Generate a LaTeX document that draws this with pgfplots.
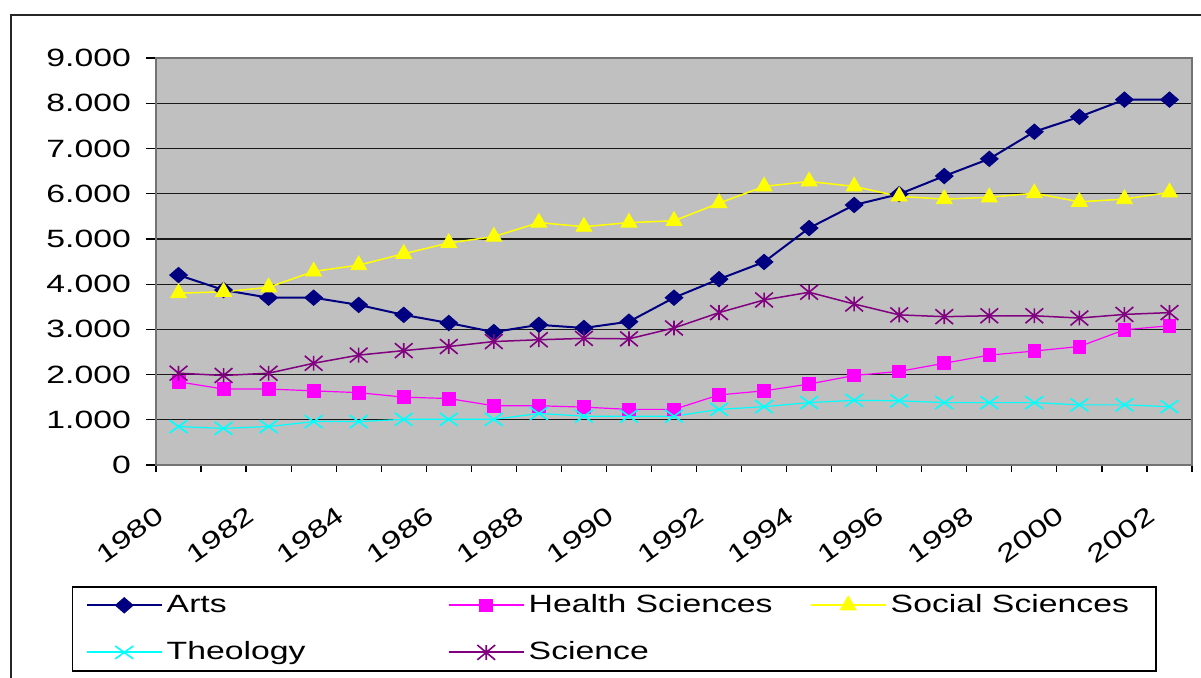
\documentclass[border=0pt]{standalone}
\usepackage{pgfplots}
\usepackage{pgfplotstable}
\pgfplotsset{compat=1.18}
\usepackage{fontspec}
\setmainfont{Liberation Sans}[FakeStretch=1.35]
\definecolor{artsc}{RGB}{0,0,128}
\definecolor{healthc}{RGB}{255,0,255}
\definecolor{socc}{RGB}{255,255,0}
\definecolor{theoc}{RGB}{0,255,255}
\definecolor{scic}{RGB}{128,0,128}
\definecolor{plotbg}{RGB}{192,192,192}
\pgfdeclareplotmark{wx}{%
 \pgfpathmoveto{\pgfqpoint{-1.4\pgfplotmarksize}{-\pgfplotmarksize}}%
 \pgfpathlineto{\pgfqpoint{1.4\pgfplotmarksize}{\pgfplotmarksize}}%
 \pgfpathmoveto{\pgfqpoint{-1.4\pgfplotmarksize}{\pgfplotmarksize}}%
 \pgfpathlineto{\pgfqpoint{1.4\pgfplotmarksize}{-\pgfplotmarksize}}%
 \pgfusepathqstroke}
\pgfdeclareplotmark{wstar}{%
 \pgfpathmoveto{\pgfqpoint{-1.2\pgfplotmarksize}{-\pgfplotmarksize}}%
 \pgfpathlineto{\pgfqpoint{1.2\pgfplotmarksize}{\pgfplotmarksize}}%
 \pgfpathmoveto{\pgfqpoint{-1.2\pgfplotmarksize}{\pgfplotmarksize}}%
 \pgfpathlineto{\pgfqpoint{1.2\pgfplotmarksize}{-\pgfplotmarksize}}%
 \pgfpathmoveto{\pgfqpoint{0pt}{-\pgfplotmarksize}}%
 \pgfpathlineto{\pgfqpoint{0pt}{\pgfplotmarksize}}%
 \pgfusepathqstroke}
\pgfdeclareplotmark{wdiamond}{%
 \pgfpathmoveto{\pgfqpoint{0pt}{\pgfplotmarksize}}%
 \pgfpathlineto{\pgfqpoint{1.15\pgfplotmarksize}{0pt}}%
 \pgfpathlineto{\pgfqpoint{0pt}{-\pgfplotmarksize}}%
 \pgfpathlineto{\pgfqpoint{-1.15\pgfplotmarksize}{0pt}}%
 \pgfpathclose
 \pgfusepathqfillstroke}
\pgfplotstableread{
x arts health social theo sci
0 4200 1840 3800 850 2030
1 3870 1680 3830 810 1980
2 3700 1680 3930 850 2030
3 3700 1640 4280 960 2250
4 3540 1600 4420 960 2430
5 3320 1500 4670 1010 2530
6 3140 1470 4910 1010 2620
7 2940 1310 5050 1010 2730
8 3100 1310 5360 1140 2770
9 3030 1280 5270 1080 2800
10 3170 1230 5360 1080 2790
11 3700 1230 5400 1080 3030
12 4110 1550 5790 1230 3370
13 4490 1640 6160 1290 3650
14 5240 1790 6270 1380 3820
15 5750 1980 6160 1430 3560
16 5990 2070 5940 1420 3320
17 6390 2250 5880 1380 3280
18 6770 2430 5920 1380 3300
19 7370 2520 6010 1380 3300
20 7700 2620 5820 1330 3250
21 8080 2990 5880 1330 3330
22 8080 3080 6030 1290 3370
}\datatable
\newcommand{\lfont}{\fontsize{12.5}{15}\selectfont}
\begin{document}
\begin{tikzpicture}
\path[use as bounding box] (0,0) rectangle (600.5pt,338.5pt);
\clip (0,0) rectangle (600.5pt,338.5pt);
\draw[line width=0.8pt, black!85] (5.5pt,331pt) rectangle (630pt,-30pt);
\begin{axis}[
  at={(78pt,106pt)}, anchor=south west, scale only axis,
  width=518pt, height=203.5pt,
  xmin=-0.5, xmax=22.5, ymin=0, ymax=9000,
  axis background/.style={fill=plotbg},
  axis line style={draw=black!55, line width=0.75pt},
  xtick={0,2,...,22},
  xticklabels={1980,1982,1984,1986,1988,1990,1992,1994,1996,1998,2000,2002},
  minor xtick={-0.5,0.5,...,22.5},
  ytick={0,1000,...,9000},
  scaled y ticks=false,
  /pgf/number format/1000 sep={.},
  /pgf/number format/assume math mode=true,
  tick align=outside,
  xtick pos=left, ytick pos=left,
  major tick length=5pt, minor tick length=3.5pt,
  major x tick style={draw=none},
  tick style={black, line width=0.6pt},
  ymajorgrids,
  major grid style={black!90, line width=0.6pt},
  ticklabel style={font=\lfont},
  yticklabel style={anchor=east, xshift=-4pt},
  xticklabel style={rotate=36, anchor=north east, xshift=-15pt, yshift=-2pt},
  legend columns=3,
  legend cell align=left,
  legend style={at={(-0.08108,-0.2973)}, anchor=north west, draw=black, line width=0.75pt,
    fill=white, inner xsep=6.5pt, inner ysep=4pt, font=\lfont,
    column sep=2pt, row sep=13pt, nodes={inner sep=0pt, anchor=west}},
  legend image code/.code={\draw[line width=1pt, mark repeat=2,mark phase=2] plot coordinates {(0pt,0pt) (18.75pt,0pt) (37.5pt,0pt)};},
]
\addplot[color=artsc, line width=1pt, mark=wdiamond, mark size=3.8pt, mark options={fill=artsc, line width=0.5pt}] table[x=x,y=arts] {\datatable};
\addlegendentry{\makebox[138.5pt][l]{Arts}}
\addplot[color=healthc, line width=0.6pt, mark=square*, mark size=3.2pt, mark options={fill=healthc, line width=0.4pt}] table[x=x,y=health] {\datatable};
\addlegendentry{\makebox[138.5pt][l]{Health Sciences}}
\addplot[color=socc, line width=0.75pt, mark=triangle*, mark size=4.6pt, mark options={fill=socc, line width=0.4pt}] table[x=x,y=social] {\datatable};
\addlegendentry{\makebox[126pt][l]{Social Sciences}}
\addplot[color=theoc, line width=0.6pt, mark=wx, mark size=3.2pt, mark options={line width=0.8pt}] table[x=x,y=theo] {\datatable};
\addlegendentry{\makebox[138.5pt][l]{Theology}}
\addplot[color=scic, line width=0.75pt, mark=wstar, mark size=3.7pt, mark options={line width=0.8pt}] table[x=x,y=sci] {\datatable};
\addlegendentry{\makebox[138.5pt][l]{Science}}
\end{axis}
\end{tikzpicture}
\end{document}
